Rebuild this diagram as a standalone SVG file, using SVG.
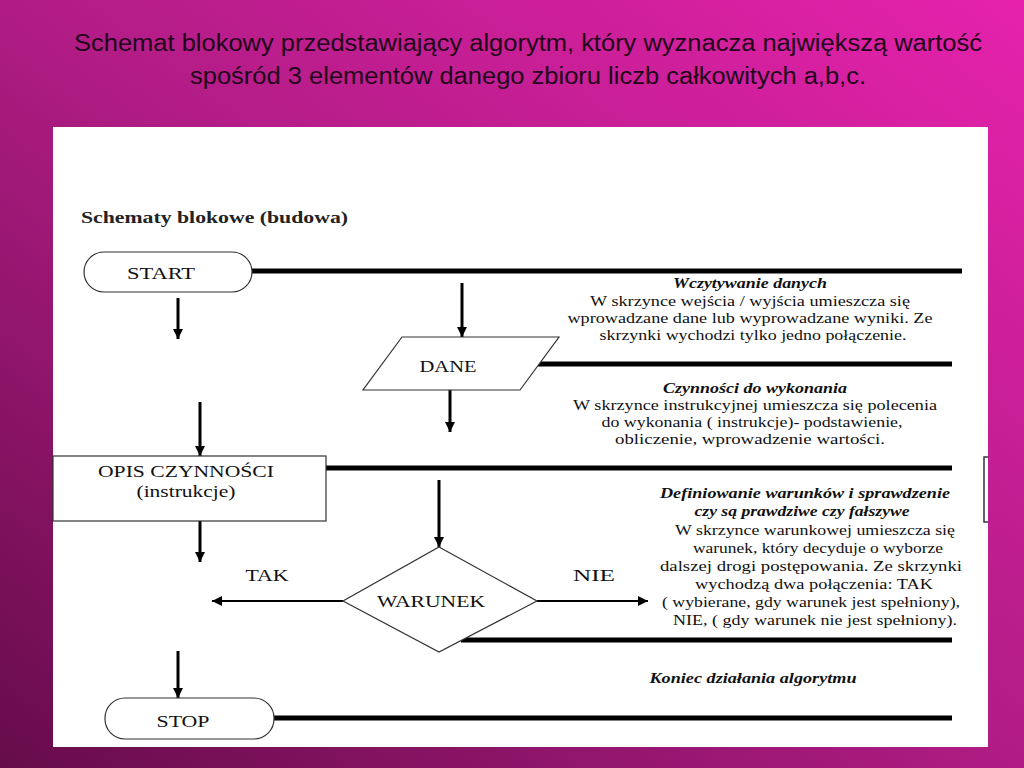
<svg xmlns="http://www.w3.org/2000/svg" width="1024" height="768" viewBox="0 0 1024 768">
<defs>
<linearGradient id="bg" x1="0" y1="1" x2="1" y2="0">
<stop offset="0" stop-color="#660c4a"/>
<stop offset="0.5" stop-color="#b01c84"/>
<stop offset="1" stop-color="#e622ad"/>
</linearGradient>
<marker id="ah" viewBox="0 0 10 10" refX="10" refY="5" markerWidth="11" markerHeight="10" markerUnits="userSpaceOnUse" orient="auto">
<path d="M0,0 L10,5 L0,10 Z" fill="#000"/>
</marker>
<style>
.title{font-family:"Liberation Sans",Arial,sans-serif;font-size:23px;fill:#22041a}
.lbl{font-family:"Liberation Serif","Times New Roman",serif;font-size:17px;fill:#111}
.txt{font-family:"Liberation Serif","Times New Roman",serif;font-size:15px;fill:#111}
.hd{font-family:"Liberation Serif","Times New Roman",serif;font-size:15px;font-weight:bold;font-style:italic;fill:#111}
.sh{fill:#fff;stroke:#333;stroke-width:1.2}
.arr{stroke:#000;stroke-width:3;fill:none;marker-end:url(#ah)}
.arr2{stroke:#000;stroke-width:2;fill:none;marker-end:url(#ah)}
.bar{stroke:#000;stroke-width:5;fill:none}
</style>
</defs>
<rect x="0" y="0" width="1024" height="768" fill="url(#bg)"/>
<text class="title" x="528" y="51" text-anchor="middle" textLength="908" lengthAdjust="spacingAndGlyphs">Schemat blokowy przedstawiający algorytm, który wyznacza największą wartość</text>
<text class="title" x="528" y="84" text-anchor="middle" textLength="676" lengthAdjust="spacingAndGlyphs">spośród 3 elementów danego zbioru liczb całkowitych a,b,c.</text>
<rect x="53" y="127" width="935" height="620" fill="#fff"/>
<path d="M988,457 L984,457 L984,522 L988,522" fill="none" stroke="#333" stroke-width="1.5"/>
<text x="81" y="223" font-family="Liberation Serif, Times New Roman, serif" font-size="16" font-weight="bold" fill="#222" textLength="267" lengthAdjust="spacingAndGlyphs">Schematy blokowe (budowa)</text>

<g id="connectors">
<line class="bar" x1="252" y1="271" x2="962" y2="271"/>
<line class="bar" x1="538" y1="364" x2="952" y2="364"/>
<line class="bar" x1="319" y1="468" x2="952" y2="468"/>
<line class="bar" x1="461" y1="640" x2="952" y2="640"/>
<line class="bar" x1="274" y1="718" x2="952" y2="718"/>
<line class="arr" x1="178" y1="298" x2="178" y2="339"/>
<line class="arr" x1="462" y1="283" x2="462" y2="337"/>
<line class="arr" x1="450" y1="390" x2="450" y2="432"/>
<line class="arr" x1="200" y1="402" x2="200" y2="456"/>
<line class="arr" x1="439" y1="480" x2="439" y2="547"/>
<line class="arr" x1="200" y1="521" x2="200" y2="562"/>
<line class="arr2" x1="343" y1="601" x2="212" y2="601"/>
<line class="arr2" x1="537" y1="601" x2="648" y2="601"/>
<line class="arr" x1="178" y1="651" x2="178" y2="698"/>
</g>

<g id="start">
<rect class="sh" x="84" y="252" width="168" height="40" rx="20"/>
<text class="lbl" x="161" y="279" text-anchor="middle" textLength="68" lengthAdjust="spacingAndGlyphs">START</text>
</g>
<g id="dane">
<polygon class="sh" points="402,337 559,337 520,390 363,390"/>
<text class="lbl" x="448" y="372" text-anchor="middle" textLength="57" lengthAdjust="spacingAndGlyphs">DANE</text>
</g>
<g id="opis">
<rect class="sh" x="53" y="456" width="273" height="65"/>
<text class="lbl" x="186" y="477" text-anchor="middle" textLength="176" lengthAdjust="spacingAndGlyphs">OPIS CZYNNOŚCI</text>
<text class="lbl" x="186" y="497" text-anchor="middle" textLength="99" lengthAdjust="spacingAndGlyphs">(instrukcje)</text>
</g>
<g id="warunek">
<polygon class="sh" points="439,547 537,601 439,652 343,601"/>
<text class="lbl" x="431" y="607" text-anchor="middle" textLength="108" lengthAdjust="spacingAndGlyphs">WARUNEK</text>
</g>
<g id="labels">
<text class="lbl" x="267" y="581" text-anchor="middle" textLength="43" lengthAdjust="spacingAndGlyphs">TAK</text>
<text class="lbl" x="594" y="581" text-anchor="middle" textLength="42" lengthAdjust="spacingAndGlyphs">NIE</text>
</g>
<g id="stop">
<rect class="sh" x="105" y="698" width="169" height="41" rx="20"/>
<text class="lbl" x="183" y="727" text-anchor="middle" textLength="53" lengthAdjust="spacingAndGlyphs">STOP</text>
</g>

<g id="desc1">
<text class="hd" x="750" y="288" text-anchor="middle" textLength="154" lengthAdjust="spacingAndGlyphs">Wczytywanie danych</text>
<text class="txt" x="750" y="306" text-anchor="middle" textLength="320" lengthAdjust="spacingAndGlyphs">W skrzynce wejścia / wyjścia umieszcza się</text>
<text class="txt" x="750" y="323" text-anchor="middle" textLength="365" lengthAdjust="spacingAndGlyphs">wprowadzane dane lub wyprowadzane wyniki. Ze</text>
<text class="txt" x="753" y="340" text-anchor="middle" textLength="307" lengthAdjust="spacingAndGlyphs">skrzynki wychodzi tylko jedno połączenie.</text>
</g>
<g id="desc2">
<text class="hd" x="755" y="393" text-anchor="middle" textLength="184" lengthAdjust="spacingAndGlyphs">Czynności do wykonania</text>
<text class="txt" x="755" y="410" text-anchor="middle" textLength="364" lengthAdjust="spacingAndGlyphs">W skrzynce instrukcyjnej umieszcza się polecenia</text>
<text class="txt" x="752" y="427" text-anchor="middle" textLength="301" lengthAdjust="spacingAndGlyphs">do wykonania ( instrukcje)- podstawienie,</text>
<text class="txt" x="750" y="444" text-anchor="middle" textLength="270" lengthAdjust="spacingAndGlyphs">obliczenie, wprowadzenie wartości.</text>
</g>
<g id="desc3">
<text class="hd" x="805" y="498" text-anchor="middle" textLength="290" lengthAdjust="spacingAndGlyphs">Definiowanie warunków i sprawdzenie</text>
<text class="hd" x="802" y="516" text-anchor="middle" textLength="215" lengthAdjust="spacingAndGlyphs">czy są prawdziwe czy fałszywe</text>
<text class="txt" x="815" y="535" text-anchor="middle" textLength="280" lengthAdjust="spacingAndGlyphs">W skrzynce warunkowej umieszcza się</text>
<text class="txt" x="818" y="553" text-anchor="middle" textLength="250" lengthAdjust="spacingAndGlyphs">warunek, który decyduje o wyborze</text>
<text class="txt" x="811" y="571" text-anchor="middle" textLength="302" lengthAdjust="spacingAndGlyphs">dalszej drogi postępowania. Ze skrzynki</text>
<text class="txt" x="814" y="589" text-anchor="middle" textLength="238" lengthAdjust="spacingAndGlyphs">wychodzą dwa połączenia: TAK</text>
<text class="txt" x="811" y="607" text-anchor="middle" textLength="298" lengthAdjust="spacingAndGlyphs">( wybierane, gdy warunek jest spełniony),</text>
<text class="txt" x="815" y="625" text-anchor="middle" textLength="284" lengthAdjust="spacingAndGlyphs">NIE, ( gdy warunek nie jest spełniony).</text>
</g>
<g id="desc4">
<text class="hd" x="753" y="683" text-anchor="middle" textLength="207" lengthAdjust="spacingAndGlyphs">Koniec działania algorytmu</text>
</g>
</svg>
